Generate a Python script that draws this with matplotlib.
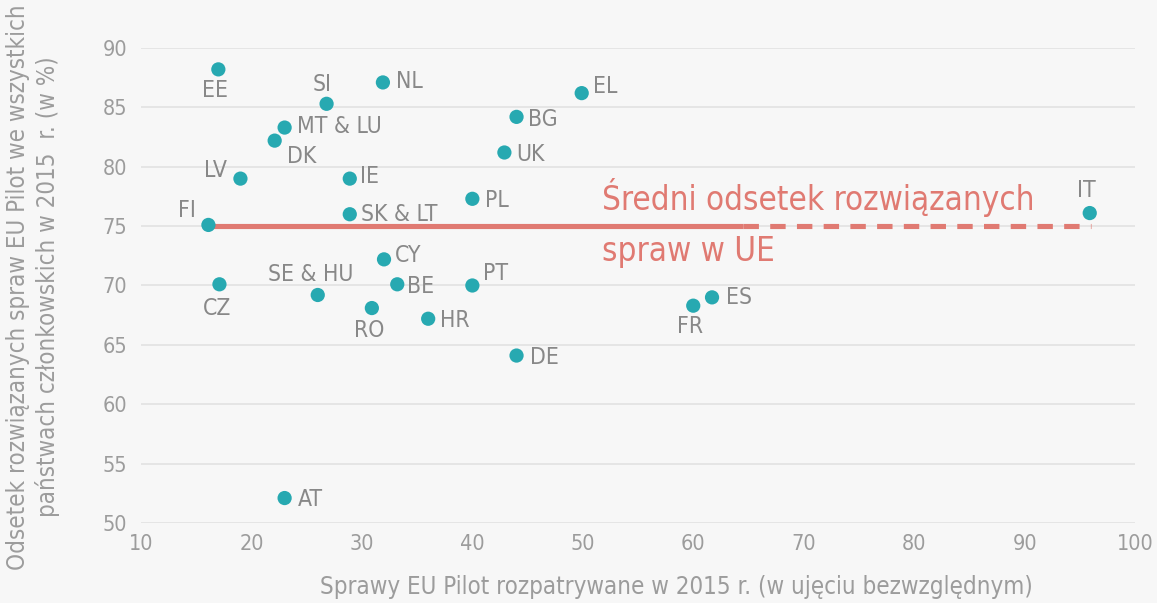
import matplotlib
matplotlib.use('Agg')
import matplotlib.pyplot as plt

# dane
countries = ['EE', 'SI', 'NL', 'EL', 'MT & LU', 'DK', 'BG', 'UK', 'LV', 'IE',
             'PL', 'IT', 'FI', 'SK & LT', 'CY', 'CZ', 'SE & HU', 'BE', 'PT',
             'RO', 'HR', 'ES', 'FR', 'DE', 'AT']
cases = [17.0, 26.8, 31.9, 49.9, 23.0, 22.1, 44.0, 42.9, 19.0, 28.9,
         40.0, 95.9, 16.1, 28.9, 32.0, 17.1, 26.0, 33.2, 40.0,
         30.9, 36.0, 61.7, 60.0, 44.0, 23.0]
resolved = [88.2, 85.3, 87.1, 86.2, 83.3, 82.2, 84.2, 81.2, 79.0, 79.0,
            77.3, 76.1, 75.1, 76.0, 72.2, 70.1, 69.2, 70.1, 70.0,
            68.1, 67.2, 69.0, 68.3, 64.1, 52.1]
eu_average = 75
avg_solid = [16.1, 64.5]
avg_dashed = [64.5, 96.0]

x_ticks = [10, 20, 30, 40, 50, 60, 70, 80, 90, 100]
y_ticks = [50, 55, 60, 65, 70, 75, 80, 85, 90]

# polozenie etykiet (przesuniecie w pikselach, wyrownanie)
label_pos = {
    'EE': (-3, -21, 'center'), 'SI': (-4, 19, 'center'), 'NL': (13, 1, 'left'),
    'EL': (11, 7, 'left'), 'MT & LU': (12, 1, 'left'), 'DK': (12, -16, 'left'),
    'BG': (11, -3, 'left'), 'UK': (12, -2, 'left'), 'LV': (-13, 8, 'right'),
    'IE': (10, 2, 'left'), 'PL': (13, -2, 'left'), 'IT': (-3, 23, 'center'),
    'FI': (-13, 14, 'right'), 'SK & LT': (11, 0, 'left'), 'CY': (11, 4, 'left'),
    'CZ': (-2, -24, 'center'), 'SE & HU': (-7, 20, 'center'), 'BE': (10, -2, 'left'),
    'PT': (11, 12, 'left'), 'RO': (-3, -22, 'center'), 'HR': (12, -2, 'left'),
    'ES': (14, 0, 'left'), 'FR': (-3, -21, 'center'), 'DE': (13, -2, 'left'),
    'AT': (13, -1, 'left'),
}

FONT = ['DejaVu Sans']
bg = '#f7f7f7'
teal = '#27a9b1'
red = '#e07a72'
grey = '#888888'
light = '#9c9c9c'

fig = plt.figure(figsize=(11.57, 6.03), dpi=100, facecolor=bg)
ax = fig.add_axes([0.1219, 0.1327, 0.9810 - 0.1219, 0.9204 - 0.1327])
ax.set_facecolor(bg)

ax.set_xlim(10, 100)
ax.set_ylim(50, 90)
ax.set_xticks(x_ticks)
ax.set_yticks(y_ticks)
ax.grid(axis='y', color='#e2e2e2', linewidth=1.2, zorder=0)
for s in ax.spines.values():
    s.set_visible(False)
ax.tick_params(length=0, labelsize=15.5, labelcolor=light)
ax.tick_params(axis='x', pad=8)
ax.tick_params(axis='y', pad=10)
for lab in ax.get_xticklabels() + ax.get_yticklabels():
    lab.set_family(FONT)
    lab.set_stretch('condensed')

# srednia UE
ax.plot(avg_solid, [eu_average, eu_average], color=red, linewidth=3.7,
        solid_capstyle='butt', zorder=2)
ax.plot(avg_dashed, [eu_average, eu_average], color=red, linewidth=3.7,
        dashes=(3, 2.2), zorder=2)
ax.text(51.7, 77.4, 'Średni odsetek rozwiązanych', color=red, fontsize=23.8,
        family=FONT, stretch='condensed', va='center', ha='left')
ax.text(51.7, 72.9, 'spraw w UE', color=red, fontsize=23.8,
        family=FONT, stretch='condensed', va='center', ha='left')

ax.scatter(cases, resolved, s=105, color=teal, edgecolors='none', zorder=3)

for name, x, y in zip(countries, cases, resolved):
    dx, dy, ha = label_pos[name]
    ax.annotate(name, (x, y), xytext=(dx, dy), textcoords='offset pixels',
                ha=ha, va='center', fontsize=16.5, color=grey, family=FONT,
                stretch='condensed')

fig.text(0.585, 0.027, 'Sprawy EU Pilot rozpatrywane w 2015 r. (w ujęciu bezwzględnym)',
         ha='center', va='center', fontsize=17.3, color=light, family=FONT,
         stretch='condensed')
fig.text(0.0285, 0.524,
         'Odsetek rozwiązanych spraw EU Pilot we wszystkich\npaństwach członkowskich w 2015  r. (w %)',
         ha='center', va='center', rotation=90, fontsize=17.3, color=light,
         family=FONT, stretch='condensed', linespacing=1.25)

fig.savefig('out.png', dpi=100, facecolor=bg)
